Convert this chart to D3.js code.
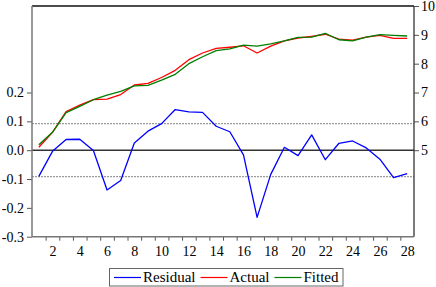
<!DOCTYPE html>
<html>
<head>
<meta charset="utf-8">
<script src="https://cdn.jsdelivr.net/npm/d3@7"></script>
<style>
  body { margin: 0; background: #fff; }
</style>
</head>
<body>
<div class="chart"></div>
<script>
// observations 1..28
var obs = d3.range(1, 29);
var residual = [-0.091, -0.004, 0.037, 0.038, -0.001, -0.138, -0.105, 0.025, 0.066, 0.092,
  0.141, 0.133, 0.131, 0.083, 0.064, -0.016, -0.233, -0.084, 0.010, -0.019,
  0.053, -0.033, 0.024, 0.032, 0.008, -0.031, -0.095, -0.081];
var actual = [5.10, 5.62, 6.34, 6.56, 6.75, 6.77, 6.93, 7.26, 7.32, 7.52,
  7.77, 8.14, 8.37, 8.53, 8.57, 8.62, 8.37, 8.61, 8.79, 8.89,
  8.95, 9.02, 8.85, 8.82, 8.92, 8.98, 8.88, 8.88];
var fitted = [5.19, 5.62, 6.30, 6.52, 6.75, 6.91, 7.04, 7.23, 7.25, 7.43,
  7.63, 8.00, 8.24, 8.45, 8.51, 8.64, 8.61, 8.69, 8.79, 8.91,
  8.92, 9.05, 8.83, 8.79, 8.92, 9.01, 8.98, 8.96];
var seBand = 0.092;
var leftTicks = [-0.3, -0.2, -0.1, 0.0, 0.1, 0.2];
var rightTicks = [5, 6, 7, 8, 9, 10];
var xLabels = [2, 4, 6, 8, 10, 12, 14, 16, 18, 20, 22, 24, 26, 28];
var legendNames = ["Residual", "Actual", "Fitted"];
var colors = ["#0000ff", "#ff0000", "#007f00"];

// pick a serif face that is really installed (fallback otherwise)
var ctx = document.createElement("canvas").getContext("2d");
function hasFont(name) {
  var s = "Residual 0.123456789";
  ctx.font = "20px monospace";
  var a = ctx.measureText(s).width;
  ctx.font = `20px "${name}", monospace`;
  return ctx.measureText(s).width !== a;
}
var fontFamily = ["Liberation Serif", "DejaVu Serif", "Times New Roman", "Noto Serif", "Tinos"]
  .find(hasFont) || "serif";

var W = 436, H = 287;
var margin = { top: 6, left: 32, right: 22, bottom: 50 };
var iw = W - margin.left - margin.right;
var ih = H - margin.top - margin.bottom - 0.3;

var svg = d3.select(".chart").append("svg").attr("width", W).attr("height", H)
  .style("font-family", `"${fontFamily}", serif`);
var g = svg.append("g").attr("transform", `translate(${margin.left},${margin.top})`);

var x = d3.scaleLinear().domain([0.5, 28.5]).range([0, iw]);
var yL = d3.scaleLinear().domain([-0.3, 0.5]).range([ih, 0]);
var yR = d3.scaleLinear().domain([2, 10]).range([ih, 0]);

// reference lines
g.selectAll(".band").data([seBand, -seBand]).enter().append("line")
  .attr("x1", 0).attr("x2", iw)
  .attr("y1", d => yL(d)).attr("y2", d => yL(d))
  .attr("stroke", "#9a9a9a").attr("stroke-width", 1.2).attr("stroke-dasharray", "2,1");
g.append("line")
  .attr("x1", 0).attr("x2", iw).attr("y1", yL(0)).attr("y2", yL(0))
  .attr("stroke", "#333").attr("stroke-width", 1.5);

// axes
function styleAxis(a) {
  a.attr("font-family", null);
  a.select(".domain").remove();
  a.selectAll("line").attr("stroke", "#555");
  a.selectAll("text").attr("font-size", 14).attr("fill", "#000");
}
var xTicks = d3.range(1.5, 28, 1);
g.append("g").attr("transform", `translate(0,${ih})`)
  .call(d3.axisBottom(x).tickValues(xTicks).tickSize(4).tickFormat(""))
  .call(styleAxis);
g.append("g").attr("transform", `translate(0,${ih})`)
  .call(d3.axisBottom(x).tickValues(xLabels).tickSize(0).tickPadding(9).tickFormat(d3.format("d")))
  .call(styleAxis);
g.append("g")
  .call(d3.axisLeft(yL).tickValues(leftTicks).tickSize(5).tickPadding(3).tickFormat(d => d.toFixed(1)))
  .call(styleAxis);
g.append("g").attr("transform", `translate(${iw},0)`)
  .call(d3.axisRight(yR).tickValues(rightTicks).tickSize(5).tickPadding(2).tickFormat(d3.format("d")))
  .call(styleAxis);

// frame
g.append("line").attr("x1", 0).attr("x2", iw).attr("y1", 0).attr("y2", 0).attr("stroke", "#111").attr("stroke-width", 1.5);
g.append("line").attr("x1", iw).attr("x2", iw).attr("y1", 0).attr("y2", ih).attr("stroke", "#333").attr("stroke-width", 1.3);
g.append("line").attr("x1", 0).attr("x2", 0).attr("y1", 0).attr("y2", ih).attr("stroke", "#777").attr("stroke-width", 1.5);
g.append("line").attr("x1", 0).attr("x2", iw).attr("y1", ih).attr("y2", ih).attr("stroke", "#777").attr("stroke-width", 1.5);

// series
var lineL = d3.line().x((d, i) => x(obs[i])).y(d => yL(d));
var lineR = d3.line().x((d, i) => x(obs[i])).y(d => yR(d));
g.append("path").datum(residual).attr("d", lineL).attr("fill", "none")
  .attr("stroke", colors[0]).attr("stroke-width", 1.3).attr("stroke-linejoin", "round");
g.append("path").datum(actual).attr("d", lineR).attr("fill", "none")
  .attr("stroke", colors[1]).attr("stroke-width", 1.3).attr("stroke-linejoin", "round");
g.append("path").datum(fitted).attr("d", lineR).attr("fill", "none")
  .attr("stroke", colors[2]).attr("stroke-width", 1.3).attr("stroke-linejoin", "round");

// legend: items laid out from measured text widths, box centred like the original
var lg = svg.append("g");
var box = lg.append("rect").attr("fill", "#fff").attr("stroke", "#666").attr("stroke-width", 1);
var cx = 5;
legendNames.forEach(function (name, i) {
  lg.append("line").attr("x1", cx).attr("x2", cx + 27).attr("y1", 9.5).attr("y2", 9.5)
    .attr("stroke", colors[i]).attr("stroke-width", 1.2);
  var t = lg.append("text").attr("x", cx + 29).attr("y", 14).attr("font-size", 15).text(name);
  cx += 29 + t.node().getComputedTextLength() + 5;
});
box.attr("x", 0.5).attr("y", 0.5).attr("width", cx - 1).attr("height", 17.5);
lg.attr("transform", `translate(${Math.round(226 - cx / 2)},268)`);
</script>
</body>
</html>
